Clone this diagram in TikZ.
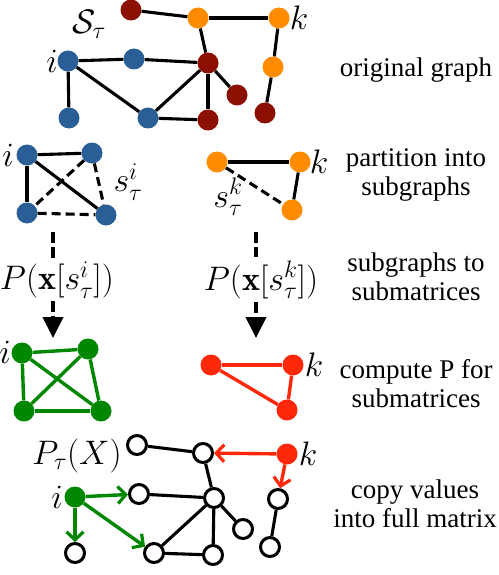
\RequirePackage{fix-cm}
\documentclass[tikz,border=0pt]{standalone}
\usepackage{fontspec}
\newfontfamily\labfont{Liberation Serif}
\usetikzlibrary{arrows.meta}
\definecolor{cblue}{RGB}{42,94,150}
\definecolor{cdred}{RGB}{140,16,0}
\definecolor{corange}{RGB}{255,140,0}
\definecolor{cgreen}{RGB}{0,135,0}
\definecolor{cred}{RGB}{255,40,10}
\begin{document}
\begin{tikzpicture}[x=1pt,y=-1pt,
  v/.style={circle,minimum size=21pt,inner sep=0pt},
  vb/.style={v,fill=cblue},
  vd/.style={v,fill=cdred},
  vo/.style={v,fill=corange},
  vg/.style={v,fill=cgreen},
  vr/.style={v,fill=cred},
  wv/.style={circle,minimum size=19pt,inner sep=0pt,fill=white,draw=black,line width=3pt},
  e/.style={line width=3.1pt},
  de/.style={e,dash pattern=on 9pt off 5pt},
  bigdash/.style={line width=4pt,dash pattern=on 11pt off 4pt},
  ge/.style={line width=3.4pt,cgreen},
  re/.style={line width=3.4pt,cred},
  barb/.style={-{Straight Barb[length=8pt,width=17pt,line width=3.2pt]}},
  lab/.style={font=\labfont\fontsize{27}{29}\selectfont,align=center},
  ml/.style={font=\fontsize{34}{36}\selectfont,inner sep=0pt}]
\useasboundingbox (0,0) rectangle (498,575);

% ---- original graph ----
\node[vd] (a1) at (131,10) {};
\node[vo] (a2) at (198,18) {};
\node[vo] (a3) at (279,18) {};
\node[vo] (a4) at (273,67) {};
\node[vd] (a5) at (265,113) {};
\node[vb] (a6) at (68,61) {};
\node[vb] (a7) at (134,59) {};
\node[vd] (a8) at (208,63) {};
\node[vd] (a9) at (237,95) {};
\node[vb] (a10) at (69,118) {};
\node[vb] (a11) at (148,118) {};
\node[vd] (a12) at (208,120) {};
\foreach \s/\t in {a1/a2,a2/a3,a2/a8,a3/a4,a4/a5,a6/a7,a7/a8,a6/a10,a6/a11,a11/a8,a11/a12,a8/a12,a8/a9}
  \draw[e] (\s) -- (\t);
\node[ml] (lS) at (89,24) {$\mathcal{S}_\tau$};
\node[ml] (li1) at (52,61) {$i$};
\node[ml] (lk1) at (299,18) {$k$};

% ---- partition ----
\node[vb] (b1) at (27,155) {};
\node[vb] (b2) at (92,153) {};
\node[vb] (b3) at (27,213) {};
\node[vb] (b4) at (106,215) {};
\draw[e] (b1) -- (b2);
\draw[e] (b1) -- (b3);
\draw[e] (b1) -- (b4);
\draw[de] (b2) -- (b3);
\draw[de] (b2) -- (b4);
\draw[de] (b3) -- (b4);
\node[vo] (c1) at (217,162) {};
\node[vo] (c2) at (300,162) {};
\node[vo] (c3) at (292,210) {};
\draw[e] (c1) -- (c2);
\draw[e] (c2) -- (c3);
\draw[de] (c1) -- (c3);
\node[ml] (li2) at (8,155) {$i$};
\node[ml] (lk2) at (319,162) {$k$};
\node[ml] (lsi) at (128,182) {$s_\tau^i$};
\node[ml] (lsk) at (228,197) {$s_\tau^k$};

% ---- submatrices ----
\node[ml] (Pi) at (57,280) {$P(\mathbf{x}[s_\tau^i])$};
\node[ml] (Pk) at (261,280) {$P(\mathbf{x}[s_\tau^k])$};
\coordinate (dla) at (53,232);
\coordinate (dlb) at (53,338);
\coordinate (dra) at (256,232);
\coordinate (drb) at (256,338);
\draw[bigdash] (dla) -- ([yshift=4pt]dla |- Pi.north);
\draw[bigdash,-{Triangle[length=21pt,width=20pt]}] ([yshift=-3pt]dla |- Pi.south) -- (dlb);
\draw[bigdash] (dra) -- ([yshift=4pt]dra |- Pk.north);
\draw[bigdash,-{Triangle[length=21pt,width=20pt]}] ([yshift=-3pt]dra |- Pk.south) -- (drb);

% ---- compute P ----
\node[vg] (g1) at (22,353) {};
\node[vg] (g2) at (88,349) {};
\node[vg] (g3) at (24,411) {};
\node[vg] (g4) at (101,411) {};
\foreach \s/\t in {g1/g2,g1/g3,g1/g4,g2/g3,g2/g4,g3/g4}
  \draw[ge] (\s) -- (\t);
\node[vr] (r1) at (211,365) {};
\node[vr] (r2) at (293,365) {};
\node[vr] (r3) at (287,410) {};
\foreach \s/\t in {r1/r2,r2/r3,r1/r3}
  \draw[re] (\s) -- (\t);
\node[ml] (li3) at (5,352) {$i$};
\node[ml] (lk3) at (314,365) {$k$};

% ---- copy values ----
\node[wv] (w1) at (137,445) {};
\node[wv] (w2) at (203,453) {};
\node[vr] (wk) at (287,454) {};
\node[wv] (w3) at (278,499) {};
\node[wv] (w4) at (270,547) {};
\node[vg] (wi) at (75,497) {};
\node[wv] (w5) at (139,494) {};
\node[wv] (w6) at (214,498) {};
\node[wv] (w7) at (243,529) {};
\node[wv] (w8) at (75,553) {};
\node[wv] (w9) at (154,553) {};
\node[wv] (w10) at (213,555) {};
\foreach \s/\t in {w1/w2,w2/w6,w5/w6,w6/w9,w6/w10,w9/w10,w6/w7,w3/w4}
  \draw[e] (\s) -- (\t);
\draw[re,barb] (wk) -- (w2);
\draw[re,barb] (wk) -- (w3);
\draw[ge,barb] (wi) -- (w5);
\draw[ge,barb] (wi) -- (w8);
\draw[ge,barb] (wi) -- (w9);
\node[ml] (lP) at (77,456) {$P_\tau(X)$};
\node[ml] (li4) at (57,497) {$i$};
\node[ml] (lk4) at (308,454) {$k$};

% ---- right labels ----
\node[lab] (t1) at (416,70) {original graph};
\node[lab] (t2) at (416,175) {partition into\\subgraphs};
\node[lab] (t3) at (416,277) {subgraphs to\\submatrices};
\node[lab] (t4) at (416,384) {compute P for\\submatrices};
\node[lab] (t5) at (415,504) {copy values\\into full matrix};
\end{tikzpicture}
\end{document}
